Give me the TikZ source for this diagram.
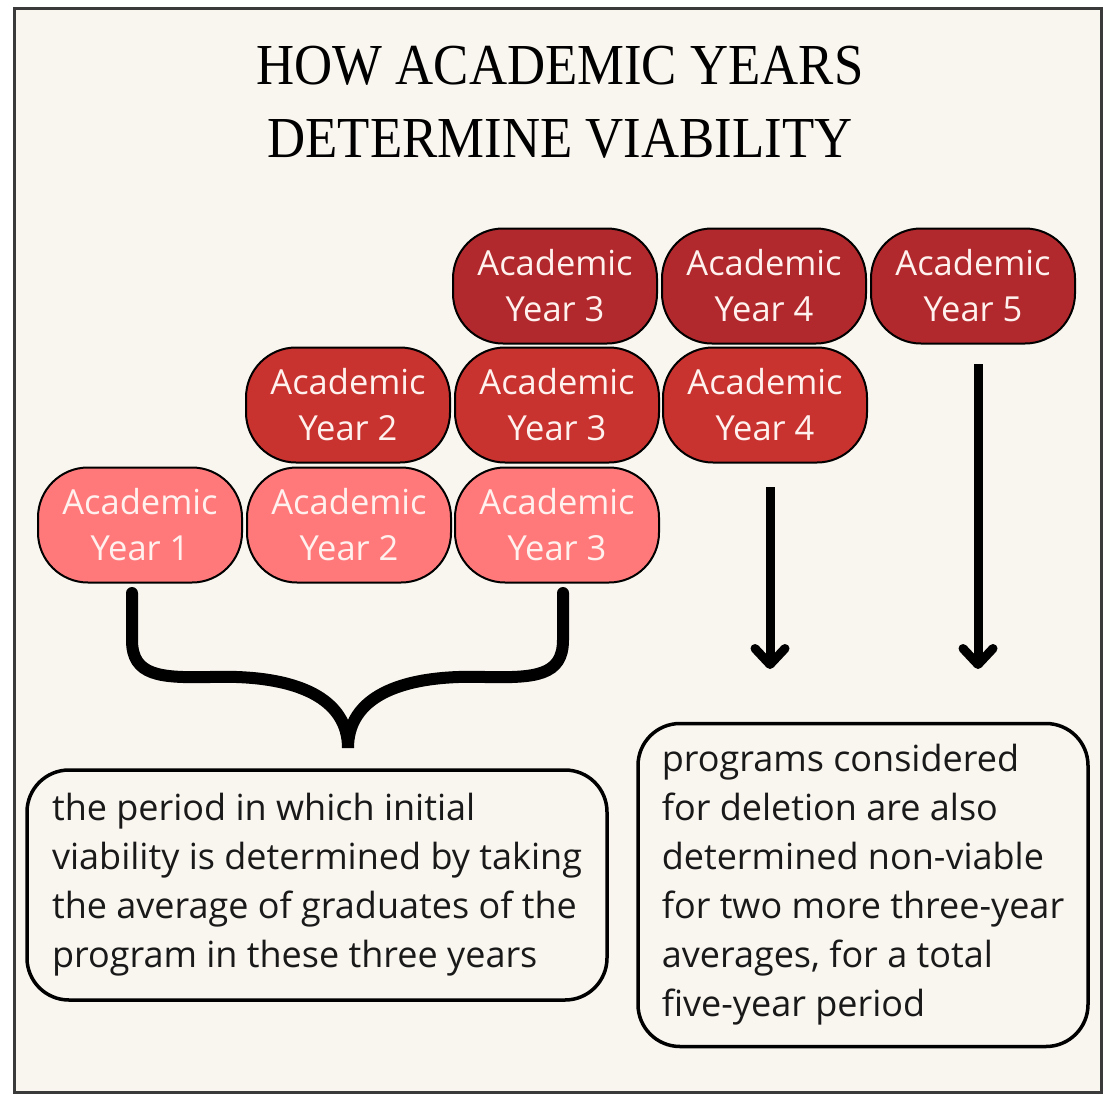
\documentclass[tikz,border=0pt]{standalone}
\usepackage{fontspec}
\setmainfont{Open Sans}
\newfontfamily\titlefont[FakeStretch=0.91]{Liberation Serif}
\usetikzlibrary{arrows.meta}
\definecolor{paper}{HTML}{F9F5EF}
\definecolor{frame}{HTML}{3A3A3A}
\definecolor{yeardark}{HTML}{B1292D}
\definecolor{yearmid}{HTML}{C8322F}
\definecolor{yearlight}{HTML}{FF797B}
\definecolor{yeartext}{HTML}{FFF1EE}
\tikzset{
    yearbox/.style={
    rectangle,rounded corners=50pt,draw=black,line width=2pt,
    minimum width=204pt,minimum height=115pt,inner sep=0pt,
    text=yeartext,align=center,font=\fontsize{34.5}{46}\selectfont
    },
    notebox/.style={
    rectangle,rounded corners=42pt,draw=black,line width=3.5pt,
    inner sep=0pt,align=left,text=black!90,
    font=\fontsize{36}{49}\selectfont
    },
    headline/.style={
    anchor=base,font=\titlefont\fontsize{58}{58}\selectfont
    },
    flow/.style={
    line width=9pt,-{Straight Barb[length=16pt,width=30pt,round]}
    },
}
\begin{document}
\begin{tikzpicture}[x=1pt, y=-1pt]
  \useasboundingbox (0,0) rectangle (1114,1095);
  \fill[white] (0,0) rectangle (1114,1095);
  \draw[frame, line width=3pt, fill=paper] (14,8) rectangle (1101,1092);

  \node[headline] (title1) at (560,84) {HOW ACADEMIC YEARS};
  \node[headline] (title2) at (560,157) {DETERMINE VIABILITY};

  \node[yearbox, fill=yeardark] (y3a) at (555,286) {Academic\\Year 3};
  \node[yearbox, fill=yeardark] (y4a) at (764,286) {Academic\\Year 4};
  \node[yearbox, fill=yeardark] (y5a) at (973,286) {Academic\\Year 5};

  \node[yearbox, fill=yearmid] (y2b) at (348,405) {Academic\\Year 2};
  \node[yearbox, fill=yearmid] (y3b) at (557,405) {Academic\\Year 3};
  \node[yearbox, fill=yearmid] (y4b) at (765,405) {Academic\\Year 4};

  \node[yearbox, fill=yearlight] (y1c) at (140,525) {Academic\\Year 1};
  \node[yearbox, fill=yearlight] (y2c) at (349,525) {Academic\\Year 2};
  \node[yearbox, fill=yearlight] (y3c) at (557,525) {Academic\\Year 3};

  \node[notebox, minimum width=580pt, minimum height=230pt] (initial) at (317,885)
    {the period in which initial\\viability is determined by taking\\the average of graduates of the\\program in these three years};
  \node[notebox, minimum width=450pt, minimum height=323pt] (deletion) at (863,885)
    {programs considered\\for deletion are also\\determined non-viable\\for two more three-year\\averages, for a total\\five-year period};

  \coordinate (a4top) at (770,487);
  \coordinate (a4end) at (770,669);
  \coordinate (a5top) at (978,364);
  \coordinate (a5end) at (978,669);
  \draw[flow] (a4top) -- (a4end);
  \draw[flow] (a5top) -- (a5end);

  \coordinate (braceL) at (132,593);
  \coordinate (braceR) at (563,593);
  \coordinate (braceTip) at (348,748);
  \draw[line width=12pt, line cap=round]
    (braceL) -- (132,640) .. controls (132,676) and (160,678) .. (210,677)
      .. controls (300,674) and (348,700) .. (braceTip)
      .. controls (348,700) and (395,674) .. (485,677)
      .. controls (535,678) and (563,676) .. (563,640) -- (braceR);
\end{tikzpicture}
\end{document}
